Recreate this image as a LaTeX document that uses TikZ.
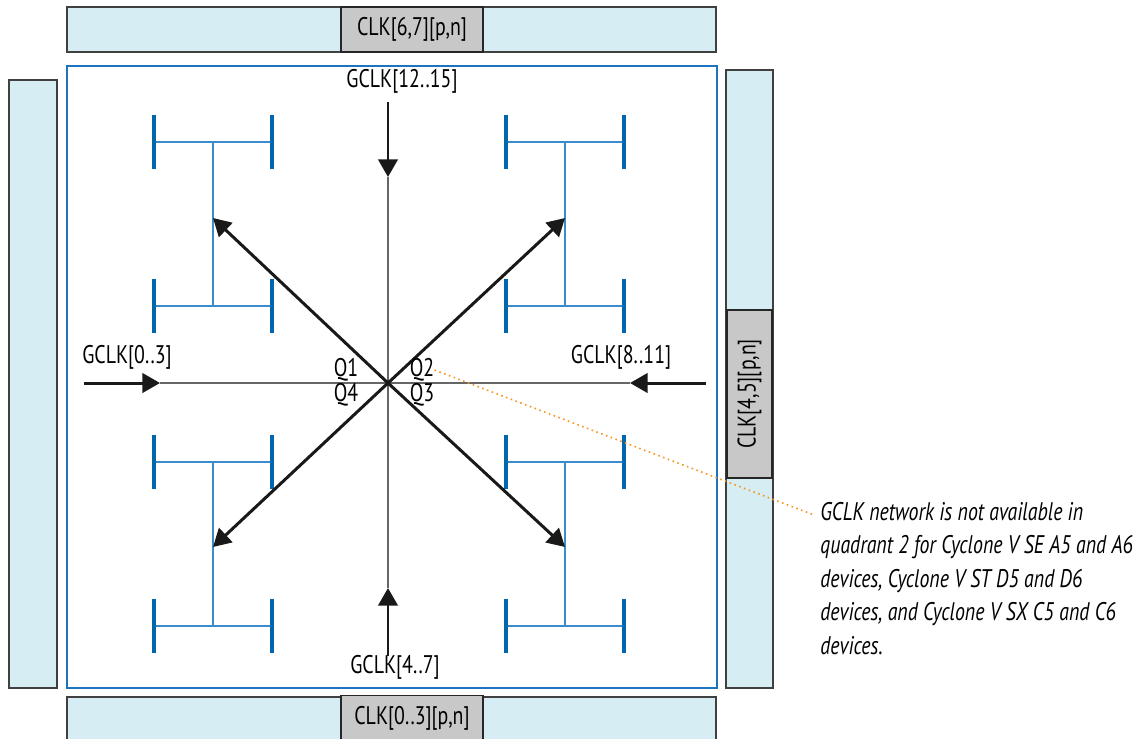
\documentclass[tikz,border=0pt]{standalone}
\usepackage{fontspec}
\setmainfont{PT Sans}[FakeStretch=0.78]
\usetikzlibrary{arrows.meta}

\definecolor{barblue}{HTML}{D6EDF4}
\definecolor{clkgray}{HTML}{C8C8C8}
\definecolor{edgeblue}{HTML}{1E73BE}
\definecolor{treeblue}{HTML}{0067AC}
\definecolor{twigblue}{HTML}{3A8DCB}
\definecolor{noteorange}{HTML}{F7941D}

\begin{document}
\begin{tikzpicture}[x=0.02cm, y=-0.02cm, font=\fontsize{14.5}{17}\selectfont,
  bar/.style={draw=black!75, fill=barblue, line width=0.7pt},
  clkbox/.style={draw=black!85, fill=clkgray, line width=1pt, inner sep=0pt, minimum width=2.84cm, minimum height=0.9cm},
  spine/.style={draw=black!60, line width=0.8pt},
  feed/.style={draw=black!90, line width=1.7pt, -{Triangle[length=10pt, width=11pt]}},
  leaf/.style={draw=treeblue, line width=2.3pt},
  twig/.style={draw=twigblue, line width=0.6pt},
  lbl/.style={inner sep=0pt},
  callout/.style={draw=noteorange, line width=0.9pt, dotted}]
  \useasboundingbox (0,0) rectangle (1142,738);

  % side bars
  \draw[bar] (67,7) rectangle (716,52);
  \draw[bar] (67,697) rectangle (716,745);
  \draw[bar] (9,80) rectangle (57,688);
  \draw[bar] (726,70) rectangle (773,688);
  \node[clkbox] (clkTop) at (412,29.5) {CLK[6,7][p,n]};
  \node[clkbox] (clkBot) at (412,718) {CLK[0..3][p,n]};
  \node[clkbox, rotate=90, minimum width=3.36cm] (clkRight) at (749.5,394) {CLK[4,5][p,n]};

  % device core
  \draw[edgeblue, line width=0.9pt] (67,66) rectangle (717,688);

  % H-trees
  \foreach \hx/\hy/\hname in {213/224/tNW, 565/224/tNE, 213/544/tSW, 565/544/tSE} {
    \coordinate (\hname) at (\hx,\hy);
    \draw[twig] (\hx,\hy-82) -- (\hx,\hy+82);
    \foreach \dy in {-82,82} {
      \draw[twig] (\hx-59,\hy+\dy) -- (\hx+59,\hy+\dy);
      \draw[leaf] (\hx-59,\hy+\dy-27) -- (\hx-59,\hy+\dy+27);
      \draw[leaf] (\hx+59,\hy+\dy-27) -- (\hx+59,\hy+\dy+27);
    }
  }

  % spines and feeds
  \coordinate (c) at (388,383);
  \coordinate (inTop) at (388,102);   \coordinate (endTop) at (388,177);
  \coordinate (inBot) at (388,656);   \coordinate (endBot) at (388,588);
  \coordinate (inLeft) at (84,383);   \coordinate (endLeft) at (160,383);
  \coordinate (inRight) at (706,383); \coordinate (endRight) at (630,383);
  \draw[spine] (endTop) -- (endBot);
  \draw[spine] (endLeft) -- (endRight);
  \draw[feed] (inTop) -- (endTop);
  \draw[feed] (inBot) -- (endBot);
  \draw[feed] (inLeft) -- (endLeft);
  \draw[feed] (inRight) -- (endRight);

  \coordinate (tipNW) at (213,218);
  \coordinate (tipNE) at (565,218);
  \coordinate (tipSW) at (213,547);
  \coordinate (tipSE) at (565,547);
  \foreach \t in {tipNW, tipNE, tipSW, tipSE}
    \draw[feed] (c) -- (\t);

  \node[lbl] (gTop) at (402,81) {GCLK[12..15]};
  \node[lbl] (gBot) at (395,667) {GCLK[4..7]};
  \node[lbl] (gLeft) at (127,357) {GCLK[0..3]};
  \node[lbl] (gRight) at (621,357) {GCLK[8..11]};

  \node[lbl] (q1) at (346,370) {Q1};
  \node[lbl] (q2) at (422,370) {Q2};
  \node[lbl] (q3) at (422,395) {Q3};
  \node[lbl] (q4) at (346,395) {Q4};

  % note
  \node[lbl, anchor=north west, align=left, font=\fontsize{14.5}{19}\selectfont\itshape] (note) at (820,502)
    {GCLK network is not available in\\
     quadrant 2 for Cyclone V SE A5 and A6\\
     devices, Cyclone V ST D5 and D6\\
     devices, and Cyclone V SX C5 and C6\\
     devices.};
  \coordinate (noteTip) at (814,515);
  \draw[callout] (q2.east) -- (noteTip);
\end{tikzpicture}
\end{document}
